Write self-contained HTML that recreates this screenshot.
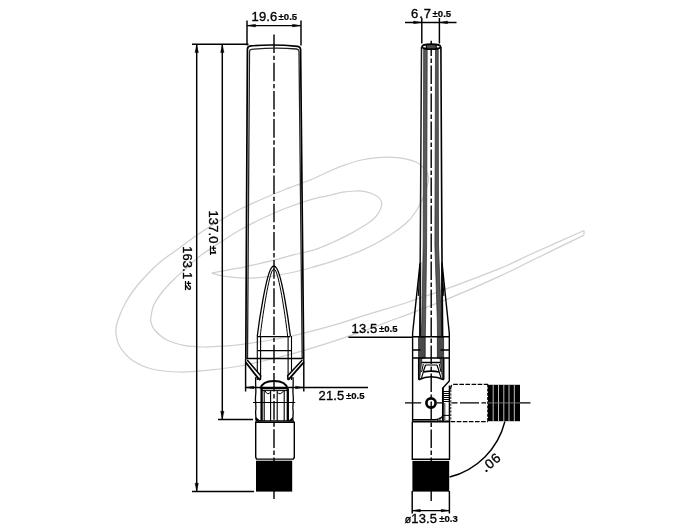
<!DOCTYPE html>
<html>
<head>
<meta charset="utf-8">
<title>Antenna drawing</title>
<style>
html,body{margin:0;padding:0;background:#fff;}
body{width:700px;height:530px;overflow:hidden;font-family:"Liberation Sans",sans-serif;}
svg{display:block;position:absolute;left:0;top:0;}
text{font-family:"Liberation Sans",sans-serif;fill:#000;stroke:#000;stroke-width:0.35px;}
.b{stroke-width:0.2px;}
.b{font-weight:bold;}
</style>
</head>
<body>
<svg width="700" height="530" viewBox="0 0 700 530">
<rect width="700" height="530" fill="#fff"/>

<!-- ===== watermark swoosh ===== -->
<g id="wm" fill="none" stroke="#d0d0d0" stroke-width="1.25">
<!-- WM-START -->
<path d="M211.8 273.2C213.8 272.8 217.7 271.9 223.6 270.8C229.5 269.7 238.8 268.2 247.2 266.4C255.6 264.6 266.0 262.1 273.9 260.2C281.8 258.2 287.3 256.5 294.3 254.7C301.3 252.9 309.5 251.2 315.7 249.3C321.9 247.4 326.1 245.3 331.4 243.0C336.6 240.7 341.9 238.2 347.2 235.4C352.4 232.7 358.7 229.1 362.9 226.5C367.1 223.9 369.9 222.3 372.5 220.0C375.1 217.7 377.2 215.0 378.7 212.6C380.2 210.2 381.3 207.6 381.6 205.5C381.9 203.4 381.6 201.7 380.6 200.0C379.6 198.3 378.0 196.7 375.6 195.3C373.2 194.0 369.6 192.6 366.2 191.9C362.8 191.2 359.1 190.9 355.2 191.0C351.3 191.1 346.8 191.5 342.6 192.2C338.4 192.9 335.4 194.0 330.0 195.3C324.6 196.6 317.5 197.6 310.0 199.8C302.5 202.0 293.3 205.2 285.0 208.5C276.7 211.8 267.5 215.9 260.0 219.5C252.5 223.1 246.7 226.2 240.0 230.0C233.3 233.8 226.7 238.2 220.0 242.5C213.3 246.8 205.5 251.8 200.0 256.0C194.5 260.2 191.4 263.7 187.1 267.5C182.8 271.3 178.6 274.8 174.3 279.0C170.0 283.2 164.8 288.6 161.4 293.0C158.0 297.4 155.5 301.1 153.7 305.3C151.9 309.5 151.2 314.9 150.8 318.0C150.4 321.1 150.8 321.9 151.5 324.0C152.2 326.1 152.6 327.9 155.0 330.5C157.4 333.1 161.2 337.0 166.0 339.5C170.8 342.0 177.7 344.1 184.0 345.4C190.3 346.6 197.3 346.9 204.0 347.0C210.7 347.1 218.0 346.6 224.0 346.2C230.0 345.8 233.2 345.5 240.0 344.6C246.8 343.7 256.7 342.4 265.0 341.0C273.3 339.6 283.3 337.7 290.0 336.3C296.7 334.9 297.3 334.8 305.0 332.8C312.7 330.8 325.9 327.4 336.4 324.3C346.9 321.2 357.4 317.6 367.9 314.4C378.4 311.2 391.4 307.4 399.3 305.0C407.2 302.6 407.4 302.3 415.0 299.7C422.6 297.1 430.8 294.6 445.0 289.4C459.2 284.2 485.6 274.3 500.0 268.4C514.4 262.5 517.4 260.3 531.4 254.0C545.4 247.7 575.2 234.4 584.0 230.5"/>
<path d="M211.8 273.2C213.8 273.7 219.0 275.4 223.6 276.2C228.2 277.0 234.1 277.6 239.3 277.9C244.5 278.2 249.2 278.1 255.0 277.8C260.8 277.5 267.3 276.9 273.9 275.9C280.4 274.9 288.3 273.3 294.3 272.0C300.3 270.7 303.8 269.7 310.0 268.0C316.2 266.3 325.2 263.7 331.4 261.7C337.6 259.7 341.9 258.2 347.2 256.2C352.4 254.2 357.7 252.3 362.9 249.9C368.1 247.5 373.4 244.9 378.6 242.0C383.8 239.1 389.3 235.8 394.3 232.3C399.3 228.8 404.7 224.9 408.6 220.8C412.6 216.8 415.4 212.3 418.0 208.0C420.6 203.7 422.6 199.5 424.3 195.0C426.0 190.5 427.8 184.6 428.3 181.0C428.8 177.4 428.4 175.6 427.5 173.3C426.6 171.0 424.6 168.8 422.8 167.0C421.0 165.2 419.4 163.7 416.5 162.3C413.6 160.9 409.4 159.6 405.5 158.8C401.6 158.0 397.6 157.5 392.9 157.3C388.2 157.1 382.4 157.2 377.2 157.6C371.9 158.0 366.6 158.8 361.4 160.0C356.1 161.2 350.9 162.9 345.7 164.7C340.5 166.5 335.9 168.4 330.0 171.0C324.1 173.6 317.5 176.9 310.0 180.0C302.5 183.1 293.3 186.2 285.0 189.5C276.7 192.8 267.5 196.7 260.0 200.0C252.5 203.3 246.7 205.9 240.0 209.3C233.3 212.7 226.7 216.6 220.0 220.5C213.3 224.4 206.7 228.5 200.0 233.0C193.3 237.5 186.4 242.8 180.0 247.5C173.6 252.2 166.6 256.8 161.4 261.0C156.2 265.2 152.9 268.6 148.6 273.0C144.3 277.4 139.6 282.5 135.7 287.5C131.8 292.5 128.3 297.8 125.4 303.0C122.5 308.2 120.0 314.3 118.4 319.0C116.8 323.7 115.6 326.5 115.8 331.0C116.0 335.5 116.8 341.2 119.5 346.0C122.2 350.8 126.6 356.2 132.0 360.0C137.4 363.8 144.0 367.0 152.0 369.0C160.0 371.0 170.3 371.8 180.0 372.0C189.7 372.2 200.0 371.0 210.0 370.0C220.0 369.0 228.3 368.2 240.0 366.0C251.7 363.8 269.2 359.6 280.0 357.0C290.8 354.4 295.6 352.9 305.0 350.1C314.4 347.3 325.9 343.8 336.4 340.3C346.9 336.8 357.4 333.1 367.9 329.3C378.4 325.5 391.4 320.4 399.3 317.5C407.2 314.6 407.2 314.7 415.0 311.7C422.8 308.7 431.8 305.6 446.0 299.7C460.2 293.8 485.8 282.6 500.0 276.1C514.2 269.6 517.4 267.6 531.4 260.8C545.4 254.0 575.2 239.4 584.0 235.1"/>
<path d="M584 230.5V235.1"/>
<!-- WM-END -->
</g>

<!-- ===== LEFT (front) VIEW ===== -->
<g id="front" fill="none" stroke="#000" stroke-width="1.2" stroke-linecap="butt">
<!-- FRONT-START -->
<!-- centre line -->
<path d="M274 34.5V499" stroke-dasharray="18.6 2.6 4.4 2.6" stroke-width="1.4"/>
<!-- antenna blade outer / inner outline -->
<path d="M245.8 358.5L247.4 49.5Q247.4 46.2 250.6 45.9Q274 43.9 297.6 46.3Q300.5 46.7 300.6 49.8L303.7 358.5" stroke-width="1.7"/>
<path d="M247.5 358.5L249.5 51.5Q249.5 49.7 251.6 49.4Q274 46.9 296.6 49Q298.8 49.3 299 51.3L302.2 358.5" stroke="#222" stroke-width="1.3"/>
<path d="M245.8 358.5H303.7" stroke-width="1.3"/>
<!-- bullet (inner element) -->
<path d="M257.3 336C259.5 318 266 277 271 268.5Q273.9 263.5 276.8 268.5C282 277 288.2 318 290.4 336" stroke-width="1.3"/>
<path d="M260.2 336C262.3 318 268 280 272 271Q273.9 267.3 275.8 271C280 280 285.6 318 287.6 336" stroke-width="1"/>
<path d="M257.3 336.6H290.4" stroke-width="1.3"/>
<path d="M257.6 350.6H291.4" stroke-width="1.3"/>
<!-- inner tube -->
<path d="M257.3 336V380M260.6 336V380M288.1 336V380M291.5 336V380" stroke-width="1.1"/>
<!-- bottom flares of blade -->
<path d="M245.7 362.2L258.3 378.4L260.1 380L260.7 375.7L247.3 360.2Z" fill="#fff" stroke="none"/>
<path d="M245.7 362.2L258.3 378.4L260.1 380" stroke-width="1.8"/>
<path d="M247.2 360L260.7 375.7L260.1 380" stroke-width="1.5"/>
<path d="M303.9 362.2L289.6 378.4L288.2 380L287.7 375.7L302.2 360.2Z" fill="#fff" stroke="none"/>
<path d="M303.9 362.2L289.6 378.4L288.2 380" stroke-width="1.8"/>
<path d="M302.3 360L287.7 375.7L288.2 380" stroke-width="1.5"/>
<!-- dome -->
<path d="M260.5 388.8Q262 381 274 381Q286 381 287.5 388.8" stroke-width="1.9"/>
<path d="M260.5 388.6H288.6" stroke-width="1.4"/>
<path d="M262 390.6H287" stroke-width="1"/>
<!-- hinge knuckle -->
<path d="M255.8 377C255 386 256.6 390 255.6 396C254.8 401 256.8 406 255.6 412L256 420" stroke-width="1.3"/>
<path d="M293 377C293.8 386 292.2 390 293.2 396C294 401 292 406 293.2 412L292.8 420" stroke-width="1.3"/>
<path d="M261.6 389V421M287.8 389V421" stroke-width="2.3"/>
<path d="M264.2 390.5V421M270.6 391V421M277.2 391V421M284.2 390.5V421" stroke-width="1.1"/>
<path d="M265 391Q268 396 270.6 392M277.2 392Q280 396 283.5 391" stroke-width="1"/>
<path d="M253 402.5H295.2" stroke-width="1.1"/>
<path d="M256 417.5L260 420.8H256ZM292.6 417.5L288.8 420.8H292.6Z" fill="#000" stroke-width="0.6"/>
<path d="M255.6 421H294" stroke-width="1.6"/>
<!-- lower barrel -->
<path d="M255.7 421.5V457.3L256.6 459.1H293.4L294.3 457.3V421.5" stroke-width="1.4"/>
<path d="M255.7 422.3H294.3" stroke-width="1.2"/>
<rect x="256" y="460.7" width="36.2" height="30.9" fill="#000" stroke="none"/>
<!-- FRONT-END -->
</g>

<!-- ===== RIGHT (side) VIEW ===== -->
<g id="side" fill="none" stroke="#000" stroke-width="1.2">
<!-- SIDE-START -->
<!-- gray inner bands -->
<path d="M423.7 48L423.2 245L421.8 320L421.2 337H425.3L425.6 320L426.6 245L427.2 48Z" fill="#585858" stroke="#303030" stroke-width="0.75"/>
<path d="M435.5 48L434.9 245L437.3 320L437.5 337H441.4L441.2 320L438.5 245L438.2 48Z" fill="#585858" stroke="#303030" stroke-width="0.75"/>
<path d="M418.6 337H425.2V358H422L421.5 362.5L419.6 379.5H418.6Z" fill="#4a4a4a" stroke="#222" stroke-width="0.8"/>
<path d="M443.6 337H437.4V358H440L440.5 362.5L442.6 379.5H443.6Z" fill="#4a4a4a" stroke="#222" stroke-width="0.8"/>
<!-- centre line -->
<path d="M431.2 40.7V501" stroke-dasharray="18.5 2.5 4.5 2.5" stroke-dashoffset="3.3" stroke-width="1.4"/>
<!-- top ellipse -->
<rect x="426.6" y="44.6" width="9.4" height="4.2" fill="#4a4a4a" stroke="none"/>
<ellipse cx="431.3" cy="46.7" rx="9.3" ry="2.5" stroke-width="1.7" fill="none"/>
<path d="M426.4 44.6V48.8M436.2 44.6V48.8" stroke-width="1.1"/>
<!-- blade edges -->
<path d="M421.5 47L420.3 245L419.7 336" stroke="#1a1a1a" stroke-width="1.5"/>
<path d="M440.9 47L441.9 245L442.6 336" stroke-width="1.6"/>
<!-- flares -->
<path d="M420 263.6L412.6 333.2V421.5" stroke-width="1.4"/>
<path d="M442.1 263.6L449.3 333.2V381L442.9 388" stroke-width="1.4"/>
<path d="M442.9 387.5V421" stroke-width="1.9"/>
<path d="M420 263.6L418.3 296M442.1 263.6L443.8 296" stroke-width="1"/>
<path d="M420.6 262L420.4 336M441.6 262L441.8 336" stroke="#111" stroke-width="1.2"/>
<!-- cross lines -->
<path d="M412.6 336.8H449.3M412.6 358H449.3" stroke-width="1.6"/>
<path d="M412.6 350H420.5M440.5 350H449.3" stroke-width="1.3"/>
<!-- socket cup -->
<path d="M418.6 358V379.4M443.8 358V379.4" stroke-width="1.3"/>
<path d="M418.6 379.7Q431.2 373.8 443.8 379.7" stroke-width="1.5"/>
<path d="M421.5 362.5H440.5" stroke-width="1.5"/>
<path d="M425.5 365H437M425.5 365L423.3 371.8M437 365L439.2 371.8" stroke-width="1.2"/>
<path d="M423.3 372Q431.2 370.2 439.2 372" stroke-width="1.6"/>
<path d="M423.3 372L421.4 378.4M439.2 372L441.1 378.4" stroke-width="1.1"/>
<path d="M423.3 364L421.6 372M439.3 364L441 372" stroke-width="1"/>
<!-- pivot -->
<circle cx="431" cy="403" r="4.6" stroke-width="2.7"/>
<path d="M405 402.9H421.2M437 402.9H443M451.5 402.9H457.5M460 402.9H479M481.5 402.9H486M520 402.9H530.5" stroke-width="1.3"/>
<!-- threads on hinge -->
<path d="M443 391.5H449.3M443 393.5H449.3M443 395.5H449.3M443 397.5H449.3M443 399.5H449.3M443 401.4H449.3" stroke-width="1.05"/>
<path d="M449.4 385.5V422" stroke-width="1.4"/>
<path d="M444.8 403V420" stroke-width="0.8"/>
<path d="M443 415.4H449.3" stroke-width="1"/>
<!-- bottom of hinge housing -->
<path d="M412.6 419.6H434.5Q442.4 419.4 442.8 414.5" stroke-width="1.2"/>
<path d="M412.6 421.6H449.6" stroke-width="2"/>
<path d="M437.6 421V418.6M440 421V417.2" stroke-width="0.9"/>
<!-- horizontal arm (dashed) -->
<path d="M450.6 389.5Q450.4 384.4 454 384.4H488" stroke-dasharray="4.6 1.5" stroke-width="1.4"/>
<path d="M450.6 421.6H488" stroke-dasharray="4.6 1.5" stroke-width="1.4"/>
<path d="M450.8 390V421" stroke-dasharray="2.2 1.2" stroke-width="0.9"/>
<path d="M487.8 384.4V421.6" stroke-dasharray="3 1.2" stroke-width="1.2"/>
<!-- threaded end -->
<rect x="488" y="384.8" width="32" height="36.4" fill="#000" stroke="none"/>
<path d="M493.2 385V421M498.5 385V421M503.8 385V421M509 385V421M514.3 385V421" stroke="#d4d4d4" stroke-width="0.9"/>
<path d="M488 402.9H520" stroke="#888" stroke-width="0.8"/>
<!-- lower barrel -->
<path d="M412.3 421.5V459.2H449.5V421.5" stroke-width="1.4"/>
<rect x="412.4" y="460.9" width="36.8" height="30.7" fill="#000" stroke="none"/>
<!-- SIDE-END -->
</g>

<!-- ===== DIMENSIONS ===== -->
<g id="dims" fill="none" stroke="#000" stroke-width="1.45">
<!-- DIMS-START -->
<!-- 19.6 -->
<path d="M247 20.5V45.5M301 20.5V45.5M247 25.6H301"/>
<path d="M247 25.6L255.5 24.3V26.9ZM301 25.6L292.5 24.3V26.9Z" fill="#000" stroke-width="0.4"/>
<!-- height dims -->
<path d="M192 44.3H248.5M196.7 44.3V491.4M222.3 44.3V419.4M218 419.4H253M192 491.4H254"/>
<path d="M196.7 44.8L195 52.6H198.4ZM222.3 44.8L220.6 52.6H224ZM196.7 491L195 483.2H198.4ZM222.3 419L220.6 411.2H224Z" fill="#000" stroke-width="0.4"/>
<!-- 21.5 -->
<path d="M245.6 358.5V391.6M303.8 358.5V391.6M245.6 387.5H368"/>
<path d="M245.6 387.5L253.8 386.2V388.8ZM303.8 387.5L295.6 386.2V388.8Z" fill="#000" stroke-width="0.4"/>
<!-- 13.5 side -->
<path d="M348.4 337.3H413"/>
<!-- 6.7 -->
<path d="M421.8 18V43.4M439.4 18V43.4M405 22.4H456.5"/>
<path d="M421.8 22.4L413.6 21.1V23.7ZM439.4 22.4L447.6 21.1V23.7Z" fill="#000" stroke-width="0.4"/>
<!-- dia 13.5 bottom -->
<path d="M412.2 491V513.5M449.4 491V513.5M412.2 510.6H449.4"/>
<path d="M412.2 510.6L420.4 509.3V511.9ZM449.4 510.6L441.2 509.3V511.9Z" fill="#000" stroke-width="0.4"/>
<!-- 90 deg arc -->
<path d="M504.9 421.5A76.3 76.3 0 0 1 449.6 477" stroke-width="1.4"/>
<!-- DIMS-END -->
</g>

<!-- ===== TEXT ===== -->
<g id="txt" opacity="0.999">
<!-- TXT-START -->
<text x="251.6" y="21.3" font-size="13" letter-spacing="0.1">19.6</text>
<text x="278.6" y="20.4" font-size="9.6" class="b">±0.5</text>
<text x="318.6" y="400" font-size="13" letter-spacing="0.1">21.5</text>
<text x="346" y="399.4" font-size="9.6" class="b">±0.5</text>
<text x="351.6" y="333" font-size="13" letter-spacing="0.1">13.5</text>
<text x="379" y="332.4" font-size="9.6" class="b">±0.5</text>
<text x="411" y="18" font-size="13" letter-spacing="0.9">6.7</text>
<text x="432.6" y="16.6" font-size="9.6" class="b">±0.5</text>
<text x="404.8" y="523.4" font-size="10.5" stroke-width="0.25">ø</text><text x="411.3" y="523.4" font-size="13" letter-spacing="0.1">13.5</text>
<text x="439.2" y="522.2" font-size="9.6" class="b">±0.3</text>
<g transform="translate(208.9 210.5) rotate(90)"><text x="0" y="0" font-size="13" letter-spacing="0.1">137.0</text><text x="35" y="-1.4" font-size="9.8" letter-spacing="-1.2" class="b">±1</text></g>
<g transform="translate(183.2 246.2) rotate(90)"><text x="0" y="0" font-size="13" letter-spacing="0.1">163.1</text><text x="34.5" y="-1.4" font-size="9.8" letter-spacing="-1.2" class="b">±2</text></g>
<circle cx="486.5" cy="470.9" r="1.15" fill="#000" stroke="none"/><g transform="translate(489.8 469.8) rotate(-42)"><text x="0" y="0" font-size="13.5" letter-spacing="0.8">06</text></g>
<!-- TXT-END -->
</g>
</svg>
</body>
</html>
